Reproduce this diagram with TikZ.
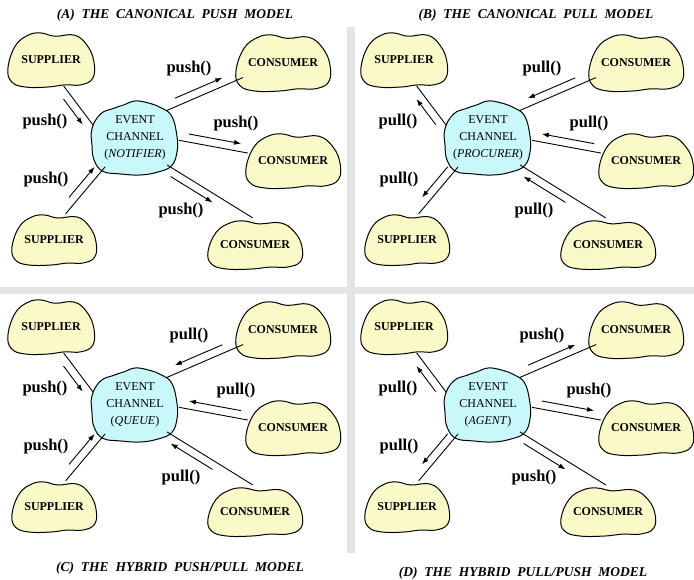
\documentclass[tikz,border=0pt]{standalone}
\usepackage{fontspec}
\setmainfont{Liberation Serif}
\newfontfamily\ttlfont{Liberation Serif}[WordSpace=2]
\usetikzlibrary{arrows.meta,positioning,calc,shapes.geometric,backgrounds}

\definecolor{blobyellow}{RGB}{250,250,200}
\definecolor{chancyan}{RGB}{200,248,250}
\definecolor{bandgrey}{RGB}{228,228,228}

% wobbly outline behind a supplier / consumer node
\newcommand{\drawblob}[3]{%
  \begin{scope}[on background layer, reset cm, shift={(#1.center)}, xscale=#2, yscale=#3]
    \draw[line width=1pt, fill=blobyellow] plot[smooth cycle, tension=.7] coordinates
      {(-1,.28) (-.83,-.52) (-.53,-.92) (-.23,-1) (.09,-.88) (.55,-.92) (.85,-.52) (1,.08)
       (.97,.68) (.69,.92) (.32,.92) (-.07,1) (-.6,1) (-.92,.8)};
  \end{scope}}
% wobbly outline behind the event channel
\newcommand{\drawchan}[1]{%
  \begin{scope}[on background layer, reset cm, shift={(#1.center)}, xscale=43, yscale=37]
    \draw[line width=1pt, fill=chancyan] plot[smooth cycle, tension=.7] coordinates
      {(-1,-.25) (-.8,-.65) (-.5,-.8) (-.25,-.9) (0,-1) (.3,-.95) (.6,-.82) (.85,-.6)
       (.97,-.1) (.98,.35) (.85,.75) (.5,.93) (.1,1) (-.35,.97) (-.75,.9) (-.95,.6) (-1,.2)};
  \end{scope}}

\begin{document}
\begin{tikzpicture}[x=1pt, y=-1pt,
  supp/.style={ellipse, inner sep=0pt, inner xsep=-25pt, minimum width=86pt, minimum height=54pt,
    font=\bfseries\fontsize{12}{14}\selectfont},
  cons/.style={supp, minimum width=94pt},
  chan/.style={ellipse, inner sep=0pt, inner xsep=-25pt, minimum width=88pt, minimum height=78pt,
    align=center, font=\fontsize{12}{17}\selectfont},
  wire/.style={line width=.9pt},
  call/.style n args={3}{line width=.9pt, to path={
    ($(\tikztostart)!#2!(\tikztotarget)!8pt!#1:(\tikztotarget)$) --
    ($(\tikztostart)!#3!(\tikztotarget)!8pt!#1:(\tikztotarget)$)}},
  fwd/.style={-{Latex[length=7pt,width=5pt]}},
  bwd/.style={{Latex[length=7pt,width=5pt]}-},
  lbl/.style={inner sep=0pt, font=\bfseries\fontsize{16.5}{18}\selectfont},
  ttl/.style={inner sep=0pt, font=\ttlfont\bfseries\itshape\fontsize{13.5}{16}\selectfont}
]
  \useasboundingbox (0,0) rectangle (694,579);
  \begin{scope}[on background layer]
    \fill[bandgrey] (347,27) rectangle (355,553);
    \fill[bandgrey] (0,287) rectangle (694,294);
  \end{scope}

  \node[ttl] (aT) at (175,15) {(A) THE CANONICAL PUSH MODEL};
  \node[ttl] (bT) at (536,15) {(B) THE CANONICAL PULL MODEL};
  \node[ttl] (cT) at (180,568) {(C) THE HYBRID PUSH/PULL MODEL};
  \node[ttl] (dT) at (523,573) {(D) THE HYBRID PULL/PUSH MODEL};

  % (A) push
  \begin{scope}
    \node[supp] (aS1) at (51,60) {SUPPLIER};
    \node[supp] (aS2) at (54,240) {SUPPLIER};
    \node[chan] (aC) at (135,138) {EVENT\\CHANNEL\\(\textit{NOTIFIER})};
    \node[cons] (aK1) at (283,63) {CONSUMER};
    \node[cons] (aK2) at (293,161) {CONSUMER};
    \node[cons] (aK3) at (255,245) {CONSUMER};
    \drawblob{aS1}{43}{27} \drawblob{aS2}{42}{25} \drawchan{aC}
    \drawblob{aK1}{47}{28} \drawblob{aK2}{47}{27} \drawblob{aK3}{47}{24}
    \draw[wire] (aS1.-64) -- (aC.163);
    \draw[wire] (aS2.66) -- (aC.224);
    \draw[wire] (aC.41) -- (aK1.200);
    \draw[wire] (aC.-3) -- (aK2.170);
    \draw[wire] (aC.-40) -- (aK3.95);
    \draw[call={-90}{.21}{.86}, fwd] (aS1.-64) to (aC.163);
    \draw[call={90}{.24}{.89}, fwd] (aS2.66) to (aC.224);
    \draw[call={90}{.15}{.77}, fwd] (aC.41) to (aK1.200);
    \draw[call={90}{.12}{.88}, fwd] (aC.-3) to (aK2.170);
    \draw[call={-90}{.09}{.58}, fwd] (aC.-40) to (aK3.95);
    \node[lbl] (aL1) at (45,122) {push()};
    \node[lbl] (aL2) at (46,180) {push()};
    \node[lbl] (aL3) at (189,69) {push()};
    \node[lbl] (aL4) at (236,124) {push()};
    \node[lbl] (aL5) at (181,211) {push()};
  \end{scope}

  % (B) pull
  \begin{scope}[shift={(353,0)}]
    \node[supp] (bS1) at (51,60) {SUPPLIER};
    \node[supp] (bS2) at (54,240) {SUPPLIER};
    \node[chan] (bC) at (135,138) {EVENT\\CHANNEL\\(\textit{PROCURER})};
    \node[cons] (bK1) at (283,63) {CONSUMER};
    \node[cons] (bK2) at (293,161) {CONSUMER};
    \node[cons] (bK3) at (255,245) {CONSUMER};
    \drawblob{bS1}{43}{27} \drawblob{bS2}{42}{25} \drawchan{bC}
    \drawblob{bK1}{47}{28} \drawblob{bK2}{47}{27} \drawblob{bK3}{47}{24}
    \draw[wire] (bS1.-64) -- (bC.163);
    \draw[wire] (bS2.66) -- (bC.224);
    \draw[wire] (bC.41) -- (bK1.200);
    \draw[wire] (bC.-3) -- (bK2.170);
    \draw[wire] (bC.-40) -- (bK3.95);
    \draw[call={-90}{.21}{.86}, bwd] (bS1.-64) to (bC.163);
    \draw[call={90}{.24}{.89}, bwd] (bS2.66) to (bC.224);
    \draw[call={90}{.15}{.77}, bwd] (bC.41) to (bK1.200);
    \draw[call={90}{.12}{.88}, bwd] (bC.-3) to (bK2.170);
    \draw[call={-90}{.09}{.58}, bwd] (bC.-40) to (bK3.95);
    \node[lbl] (bL1) at (45,122) {pull()};
    \node[lbl] (bL2) at (46,180) {pull()};
    \node[lbl] (bL3) at (189,69) {pull()};
    \node[lbl] (bL4) at (236,124) {pull()};
    \node[lbl] (bL5) at (181,211) {pull()};
  \end{scope}

  % (C) push/pull
  \begin{scope}[shift={(0,267)}]
    \node[supp] (cS1) at (51,60) {SUPPLIER};
    \node[supp] (cS2) at (54,240) {SUPPLIER};
    \node[chan] (cC) at (135,138) {EVENT\\CHANNEL\\(\textit{QUEUE})};
    \node[cons] (cK1) at (283,63) {CONSUMER};
    \node[cons] (cK2) at (293,161) {CONSUMER};
    \node[cons] (cK3) at (255,245) {CONSUMER};
    \drawblob{cS1}{43}{27} \drawblob{cS2}{42}{25} \drawchan{cC}
    \drawblob{cK1}{47}{28} \drawblob{cK2}{47}{27} \drawblob{cK3}{47}{24}
    \draw[wire] (cS1.-64) -- (cC.163);
    \draw[wire] (cS2.66) -- (cC.224);
    \draw[wire] (cC.41) -- (cK1.200);
    \draw[wire] (cC.-3) -- (cK2.170);
    \draw[wire] (cC.-40) -- (cK3.95);
    \draw[call={-90}{.21}{.86}, fwd] (cS1.-64) to (cC.163);
    \draw[call={90}{.24}{.89}, fwd] (cS2.66) to (cC.224);
    \draw[call={90}{.15}{.77}, bwd] (cC.41) to (cK1.200);
    \draw[call={90}{.12}{.88}, bwd] (cC.-3) to (cK2.170);
    \draw[call={-90}{.09}{.58}, bwd] (cC.-40) to (cK3.95);
    \node[lbl] (cL1) at (45,122) {push()};
    \node[lbl] (cL2) at (46,180) {push()};
    \node[lbl] (cL3) at (189,69) {pull()};
    \node[lbl] (cL4) at (236,124) {pull()};
    \node[lbl] (cL5) at (181,211) {pull()};
  \end{scope}

  % (D) pull/push
  \begin{scope}[shift={(353,267)}]
    \node[supp] (dS1) at (51,60) {SUPPLIER};
    \node[supp] (dS2) at (54,240) {SUPPLIER};
    \node[chan] (dC) at (135,138) {EVENT\\CHANNEL\\(\textit{AGENT})};
    \node[cons] (dK1) at (283,63) {CONSUMER};
    \node[cons] (dK2) at (293,161) {CONSUMER};
    \node[cons] (dK3) at (255,245) {CONSUMER};
    \drawblob{dS1}{43}{27} \drawblob{dS2}{42}{25} \drawchan{dC}
    \drawblob{dK1}{47}{28} \drawblob{dK2}{47}{27} \drawblob{dK3}{47}{24}
    \draw[wire] (dS1.-64) -- (dC.163);
    \draw[wire] (dS2.66) -- (dC.224);
    \draw[wire] (dC.41) -- (dK1.200);
    \draw[wire] (dC.-3) -- (dK2.170);
    \draw[wire] (dC.-40) -- (dK3.95);
    \draw[call={-90}{.21}{.86}, bwd] (dS1.-64) to (dC.163);
    \draw[call={90}{.24}{.89}, bwd] (dS2.66) to (dC.224);
    \draw[call={90}{.15}{.77}, fwd] (dC.41) to (dK1.200);
    \draw[call={90}{.12}{.88}, fwd] (dC.-3) to (dK2.170);
    \draw[call={-90}{.09}{.58}, fwd] (dC.-40) to (dK3.95);
    \node[lbl] (dL1) at (45,122) {pull()};
    \node[lbl] (dL2) at (46,180) {pull()};
    \node[lbl] (dL3) at (189,69) {push()};
    \node[lbl] (dL4) at (236,124) {push()};
    \node[lbl] (dL5) at (181,211) {push()};
  \end{scope}
\end{tikzpicture}
\end{document}
